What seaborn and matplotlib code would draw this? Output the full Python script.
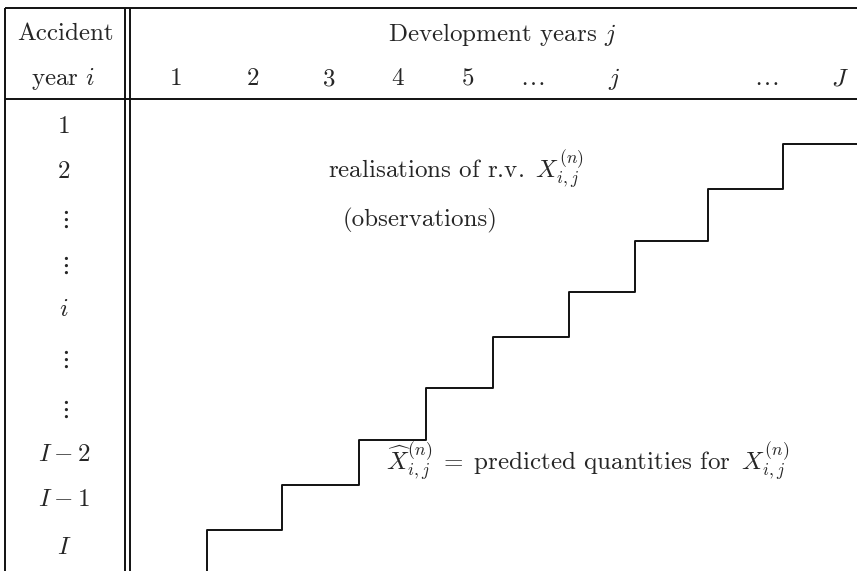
import matplotlib
matplotlib.use('Agg')
import matplotlib.pyplot as plt
import pandas as pd
import seaborn as sns

# header / row labels of the run-off triangle
col_labels = ['1', '2', '3', '4', '5', r'$\ldots$', r'$j$', r'$\ldots$', r'$J$']
col_x = [176, 253, 329, 398, 468, 532, 614, 766, 840]
row_labels = ['1', '2', r'$\vdots$', r'$\vdots$', r'$i$', r'$\vdots$', r'$\vdots$',
              r'$I-2$', r'$I-1$', r'$I$']
row_y = [127, 172, 220, 266, 310, 360, 410, 455, 500, 548]

# staircase separating observations from predictions
step_x = [207, 282, 359, 426, 493, 569, 635, 708, 783, 857]
step_y = [571, 530, 485, 440, 388, 337, 292, 241, 189, 144]

sns.set_theme(style='white')
plt.rcParams['font.family'] = 'serif'
plt.rcParams['font.serif'] = ['cmr10', 'DejaVu Serif']
plt.rcParams['mathtext.fontset'] = 'cm'
plt.rcParams['axes.unicode_minus'] = False

fig = plt.figure(figsize=(8.57, 5.71), dpi=100)
ax = fig.add_axes([0, 0, 1, 1])

ink = '#111111'
lw = 1.4

# table frame
ax.hlines([8, 99], 5, 857, color=ink, lw=lw)
ax.vlines(5, 8, 571, color=ink, lw=lw)
ax.vlines([125, 130], 8, 571, color=ink, lw=lw)

# staircase
steps = pd.DataFrame({'x': step_x, 'y': step_y})
sns.lineplot(data=steps, x='x', y='y', ax=ax, estimator=None, sort=False,
             drawstyle='steps-pre', color=ink, lw=lw)
ax.set_xlim(0, 857)
ax.set_ylim(571, 0)
ax.axis('off')

fs = 18
ax.text(65, 34, 'Accident', ha='center', va='center', fontsize=fs)
ax.text(63, 79, r'year $i$', ha='center', va='center', fontsize=fs)
ax.text(502, 34, r'Development years $j$', ha='center', va='center', fontsize=fs)

for lab, x in zip(col_labels, col_x):
    ax.text(x, 79, lab, ha='center', va='center', fontsize=fs)
for lab, y in zip(row_labels, row_y):
    ax.text(64, y, lab, ha='center', va='center', fontsize=fs)

ax.text(328, 178, r'realisations of r.v. $\,X^{(n)}_{i,j}$', ha='left', va='baseline', fontsize=fs)
ax.text(343, 226, '(observations)', ha='left', va='baseline', fontsize=fs)
ax.text(386, 470, r'$\widehat{X}^{(n)}_{i,j}\;=\;$predicted quantities for $\,X^{(n)}_{i,j}$',
        ha='left', va='baseline', fontsize=fs)

plt.savefig('out.png', dpi=100)
